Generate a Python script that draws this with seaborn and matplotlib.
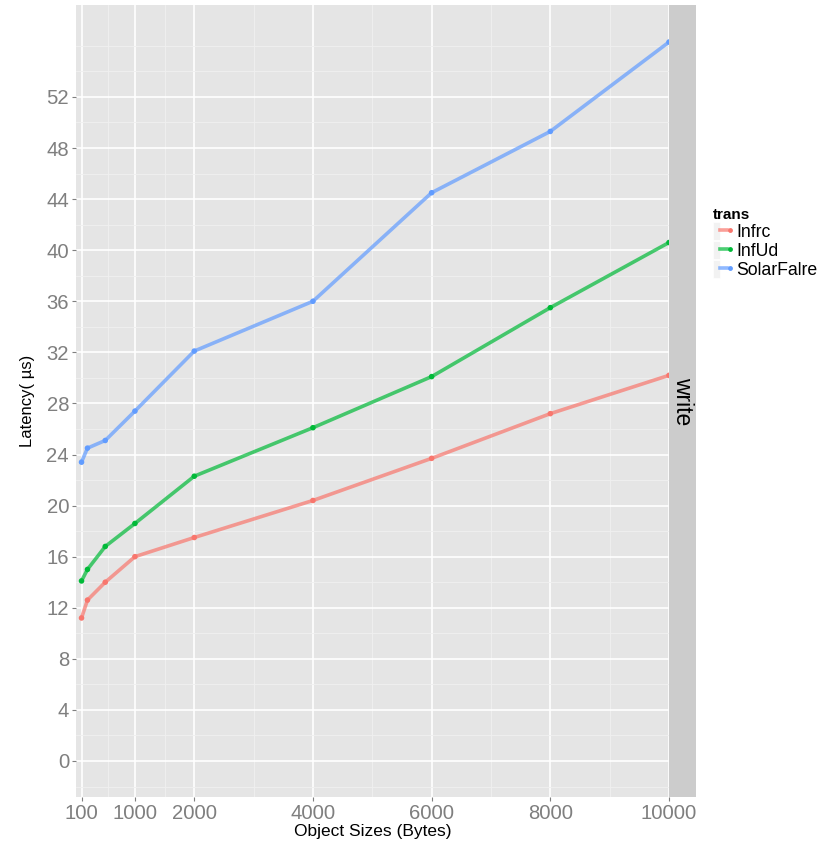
import numpy as np
import pandas as pd
import seaborn as sns
import matplotlib.pyplot as plt
from matplotlib.lines import Line2D
from matplotlib.patches import Rectangle
from matplotlib.legend_handler import HandlerTuple

# values
sizes = [100, 200, 500, 1000, 2000, 4000, 6000, 8000, 10000]
infrc = [11.2, 12.6, 14.0, 16.0, 17.5, 20.4, 23.7, 27.2, 30.2]
infud = [14.1, 15.0, 16.8, 18.6, 22.3, 26.1, 30.1, 35.5, 40.6]
solarfalre = [23.4, 24.5, 25.1, 27.4, 32.1, 36.0, 44.5, 49.3, 56.3]
series_names = ['Infrc', 'InfUd', 'SolarFalre']
colors = ['#F8766D', '#00BA38', '#619CFF']
x_ticks = [100, 1000, 2000, 4000, 6000, 8000, 10000]
x_minor = [550, 1500, 3000, 5000, 7000, 9000]
y_ticks = list(range(0, 53, 4))
y_minor = list(range(-2, 55, 4)) + [56]

df = pd.DataFrame({
    'size': sizes * 3,
    'latency': infrc + infud + solarfalre,
    'trans': [n for n in series_names for _ in sizes],
})

plt.rcParams['font.family'] = ['Liberation Sans', 'DejaVu Sans']

fig = plt.figure(figsize=(8.3, 8.42), dpi=100)
ax = fig.add_axes([76 / 830, 1 - 797 / 842, 593 / 830, 792 / 842])
ax.set_facecolor('#E5E5E5')

sns.lineplot(data=df, x='size', y='latency', hue='trans', palette=colors,
             lw=2.6, alpha=0.7, ax=ax, legend=False)
sns.scatterplot(data=df, x='size', y='latency', hue='trans', palette=colors,
                s=16, edgecolor='none', ax=ax, legend=False, zorder=3)

ax.set_xlim(7, 10000)
ax.set_ylim(-2.82, 59.2)
ax.set_xticks(x_ticks)
ax.set_xticks(x_minor, minor=True)
ax.set_yticks(y_ticks)
ax.set_yticks(y_minor, minor=True)
ax.set_axisbelow(True)
ax.grid(which='major', color='white', lw=1.2)
ax.grid(which='minor', color='#F0F0F0', lw=0.6)
for s in ax.spines.values():
    s.set_visible(False)
ax.tick_params(which='major', length=3, width=0.8, color='#7F7F7F',
               labelsize=14.6, labelcolor='#7F7F7F', pad=2)
ax.tick_params(which='minor', length=0)

ax.set_xlabel('Object Sizes (Bytes)', fontsize=12.5, labelpad=1)
ax.set_ylabel('Latency( µs)', fontsize=12, labelpad=8)

# facet strip
strip = fig.add_axes([669 / 830, 1 - 797 / 842, 27 / 830, 792 / 842])
strip.set_facecolor('#CCCCCC')
strip.set_xticks([])
strip.set_yticks([])
for s in strip.spines.values():
    s.set_visible(False)
strip.text(0.5, 0.5, 'write', rotation=-90, ha='center', va='center',
           fontsize=16.5, transform=strip.transAxes)

handles = []
for c in colors:
    box = Rectangle((0, 0), 1, 1, facecolor='#F2F2F2', edgecolor='white', lw=0.5)
    line = Line2D([], [], color=c, lw=2.6, alpha=0.7)
    dot = Line2D([], [], color=c, lw=0, marker='o', markersize=3.5,
                 markeredgecolor='none')
    handles.append((box, line, dot))

fig.legend(handles, series_names, title='trans', loc='upper left',
           bbox_to_anchor=(704 / 830, 1 - 199 / 842), frameon=False,
           fontsize=12.7, title_fontproperties={'weight': 'bold', 'size': 11},
           handler_map={tuple: HandlerTuple(ndivide=None, pad=0)},
           handlelength=1.2, handleheight=1.15, labelspacing=0.02,
           handletextpad=0.15, borderpad=0, alignment='left')

fig.savefig('out.png', dpi=100)
